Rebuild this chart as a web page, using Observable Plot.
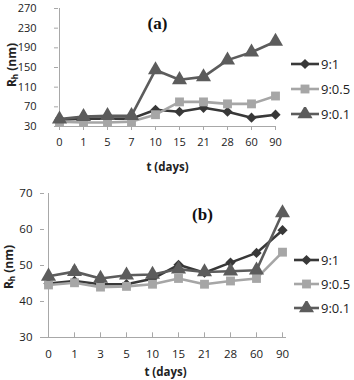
<!DOCTYPE html>
<html><head><meta charset="utf-8">
<script src="https://cdn.jsdelivr.net/npm/d3@7"></script>
<script src="https://cdn.jsdelivr.net/npm/@observablehq/plot@0.6"></script>
<style>
body{margin:0;background:#fff;}
#wrap{position:relative;width:354px;height:380px;font-family:"Open Sans",sans-serif;overflow:hidden;}
.panel{position:absolute;left:0;width:354px;height:190px;}
.ylab{position:absolute;font-weight:bold;font-size:12px;transform:translate(-50%,-50%) rotate(-90deg);white-space:nowrap;color:#222;line-height:1;}
.ylab sub{font-size:8px;vertical-align:-2px;}
.leg{position:absolute;font-size:13px;color:#222;display:flex;align-items:center;height:14px;line-height:1;}
.leg svg{display:block;margin-right:2px;}
</style></head><body><div id="wrap"></div><script>
// ---- data ----
const daysA = ["0","1","5","7","10","15","21","28","60","90"];
const daysB = ["0","1","3","5","10","15","21","28","60","90"];
const seriesNames = ["9:1","9:0.5","9:0.1"];
const a91  = [44,46,46,46,64,60,68,60,48,54];
const a905 = [40,38,38,40,54,80,80,76,76,92];
const a901 = [45,50,52,52,145,125,131,165,181,203];
const a901err = [0,8,6,0,0,0,0,0,0,0];
const b91  = [45,45.7,44.8,44.8,46.3,50.2,48,50.8,53.5,59.8];
const b905 = [44.6,45.2,44,44.2,44.8,46.4,44.8,45.7,46.4,53.7];
const b901 = [47,48.3,46.4,47.3,47.5,49,48.2,48.4,48.7,64.6];
const b901err = [0.8,1.2,1,1,1,0,0.8,0.8,0,0];
const yTicksA = [30,70,110,150,190,230,270];
const yTicksB = [30,40,50,60,70];
const titleA = "(a)", titleB = "(b)";
const xTitle = "t (days)";

// ---- style ----
const colors = ["#383838","#a6a6a6","#5c5c5c"];
const symbols = ["diamond2","square","triangle"];
const radii = [4.6,5,5.6];
const axisGray = "#a8a8a8";
const capSymbol = {draw(ctx, size){const w=Math.sqrt(size)/2; ctx.moveTo(-w,0); ctx.lineTo(w,0);}};

function makePanel(o){
  const vals = o.vals;
  const marks = [
    Plot.ruleY([o.yDomain[0]], {stroke:axisGray, strokeWidth:1}),
    Plot.ruleX([o.days[0]], {stroke:axisGray, strokeWidth:1}),
    Plot.axisY({ticks:o.yTicks, tickSize:4, tickPadding:o.tickPadY, stroke:axisGray, fill:"#222", fontSize:o.fs, label:null}),
    Plot.axisX({tickSize:o.xTickUp?0:4, tickPadding:o.tickPadX, stroke:axisGray, fill:"#222", fontSize:o.fs, label:null})
  ];
  if (o.xTickUp) marks.push(Plot.ruleX(o.days, {x:d=>d, y1:o.yDomain[0], y2:o.yDomain[0]+o.upTick, stroke:axisGray}));
  seriesNames.forEach((s,k)=>{
    const rows = o.days.map((d,i)=>({day:d, v:vals[k][i]}));
    marks.push(Plot.line(rows, {x:"day", y:"v", stroke:colors[k], strokeWidth:2.6}));
    if (k===2){
      const er = o.days.map((d,i)=>({day:d, v:vals[k][i], e:o.errs[i]})).filter(r=>r.e>0);
      marks.push(Plot.ruleX(er, {x:"day", y1:"v", y2:d=>d.v+d.e, stroke:colors[k], strokeWidth:1.5}));
      marks.push(Plot.dot(er, {x:"day", y:d=>d.v+d.e, symbol:capSymbol, r:2.6, stroke:colors[k], strokeWidth:1.5}));
    }
    marks.push(Plot.dot(rows, {x:"day", y:"v", symbol:symbols[k], r:radii[k], fill:colors[k], stroke:"none"}));
  });
  marks.push(Plot.text([o.title], {frameAnchor:"top", dx:o.titleDx, dy:o.titleDy, lineAnchor:"middle", fontFamily:"Liberation Serif", fontWeight:"bold", fontSize:17, fill:"#111"}));
  marks.push(Plot.text([xTitle], {frameAnchor:"bottom", dy:o.xTitleDy, lineAnchor:"middle", fontWeight:"bold", fontSize:11.5, fill:"#222"}));
  return Plot.plot({
    width:354, height:190,
    marginLeft:o.ml, marginRight:o.mr, marginTop:o.mt, marginBottom:o.mb,
    style:{fontFamily:"Open Sans", background:"transparent", overflow:"visible"},
    x:{type:"point", domain:o.days, padding:0},
    y:{domain:o.yDomain},
    marks
  });
}

const wrap = document.getElementById("wrap");
function place(el, top){const d=document.createElement("div"); d.className="panel"; d.style.top=top+"px"; d.appendChild(el); wrap.appendChild(d);}

place(makePanel({days:daysA, vals:[a91,a905,a901], errs:a901err, yDomain:[30,270], yTicks:yTicksA,
  ml:58, mr:78, mt:8, mb:64, tickPadY:18, tickPadX:8, xTickUp:false, fs:11,
  title:titleA, titleDx:-10, titleDy:15, xTitleDy:41}), 0);
place(makePanel({days:daysB, vals:[b91,b905,b901], errs:b901err, yDomain:[30,70], yTicks:yTicksB,
  ml:44, mr:68, mt:3, mb:43, tickPadY:8, tickPadX:12, xTickUp:true, upTick:1.3, fs:11.5,
  title:titleB, titleDx:37, titleDy:21, xTitleDy:35}), 190);

// y titles
function ylab(x,y){const d=document.createElement("div"); d.className="ylab"; d.innerHTML="R<sub>h</sub> (nm)"; d.style.left=x+"px"; d.style.top=y+"px"; wrap.appendChild(d);}
ylab(12,65); ylab(9,267);

// legends
function legend(x, ys, lineW){
  seriesNames.forEach((s,k)=>{
    const row=document.createElement("div"); row.className="leg";
    row.style.left=x+"px"; row.style.top=(ys[k]-7)+"px";
    const svg=d3.create("svg").attr("width",lineW).attr("height",14);
    svg.append("line").attr("x1",0).attr("x2",lineW).attr("y1",7).attr("y2",7).attr("stroke",colors[k]).attr("stroke-width",2.6);
    const sym={diamond2:d3.symbolDiamond2, square:d3.symbolSquare, triangle:d3.symbolTriangle}[symbols[k]];
    svg.append("path").attr("transform",`translate(${lineW/2},7)`).attr("d",d3.symbol(sym, Math.PI*radii[k]*radii[k])()).attr("fill",colors[k]);
    row.appendChild(svg.node());
    const t=document.createElement("span"); t.textContent=s; row.appendChild(t);
    wrap.appendChild(row);
  });
}
legend(291,[64,89,114],28);
legend(294,[260,284,308],25);
</script></body></html>
